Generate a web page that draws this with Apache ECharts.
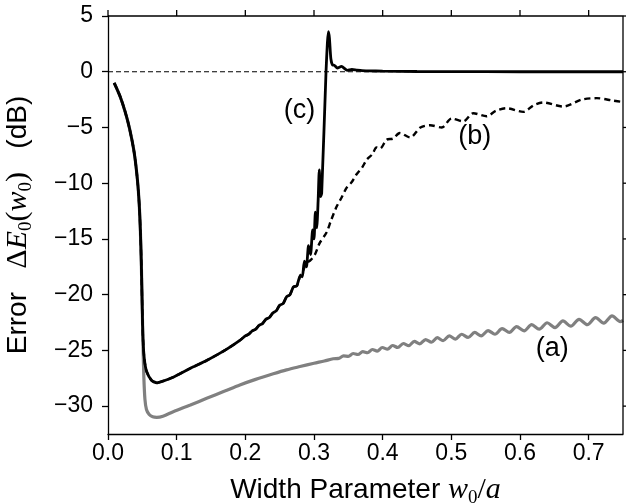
<!DOCTYPE html>
<html>
<head>
<meta charset="utf-8">
<script src="https://cdn.jsdelivr.net/npm/echarts@6/dist/echarts.min.js"></script>
<style>html,body{margin:0;padding:0;background:#fff;overflow:hidden}#chart{width:626px;height:504px}</style>
</head>
<body>
<div id="chart"></div>
<script>
// axis range and tick positions
var xRange = [0, 0.75];
var yRange = [-32.5, 5];
var xTicks = [0, 0.1, 0.2, 0.3, 0.4, 0.5, 0.6, 0.7];
var yTicks = [-30, -25, -20, -15, -10, -5, 0, 5];

// steep start, shared by all three curves
var headX = [0.0090, 0.0175, 0.0250, 0.0310, 0.0380, 0.0430, 0.0460, 0.0478, 0.0490];
var headY = [-1.0, -2.2, -3.6, -5.0, -7.2, -9.8, -12.5, -15.5, -18.5];

// black part shared by (b) and (c)
var blackX = [0.0498, 0.0510, 0.0530, 0.0563, 0.0636, 0.0709, 0.08, 0.095, 0.12, 0.1437, 0.17, 0.192,
    0.200, 0.205, 0.210, 0.215, 0.220, 0.225, 0.230, 0.235, 0.240, 0.245, 0.250, 0.255, 0.260,
    0.265, 0.270, 0.275, 0.280];
var blackY = [-21.0, -24.0, -25.8, -26.9, -27.7, -27.9, -27.75, -27.4, -26.6, -25.9, -25.0, -24.1,
    -23.7, -23.55, -23.25, -23.1, -22.75, -22.6, -22.2, -22.05, -21.65, -21.45, -20.95, -20.8, -20.2,
    -20.0, -19.3, -19.2, -18.3];

// (c) tail
var cX = [0.283, 0.286, 0.289, 0.292, 0.295, 0.298, 0.300, 0.302, 0.304, 0.306, 0.3077, 0.3095,
    0.3112, 0.3175, 0.3195, 0.3210, 0.3225, 0.3245, 0.327, 0.329, 0.334, 0.340, 0.3485, 0.355,
    0.362, 0.370, 0.380, 0.40, 0.45, 0.50, 0.60, 0.75];
var cY = [-18.4, -17.0, -17.5, -15.6, -16.4, -14.2, -15.0, -12.6, -14.0, -11.6, -8.8, -11.2,
    -10.9, 0.0, 2.6, 3.6, 3.0, 1.2, 0.6, 0.6, 0.33, 0.48, 0.12, 0.2,
    0.15, 0.1, 0.08, 0.05, 0.02, 0.01, 0.0, 0.0];

// (b) tail
var bX = [0.283, 0.289, 0.295, 0.3014, 0.308, 0.3184, 0.325, 0.333, 0.340, 0.3476, 0.355, 0.362,
    0.370, 0.3767, 0.385, 0.391, 0.396, 0.4058, 0.415, 0.425, 0.440, 0.455, 0.469, 0.486, 0.5005,
    0.5174, 0.532, 0.5514, 0.565, 0.580, 0.605, 0.620, 0.634, 0.663, 0.690, 0.7117, 0.736, 0.750];
var bY = [-18.0, -17.2, -16.9, -16.4, -15.4, -14.4, -13.3, -12.1, -11.3, -10.4, -9.9, -9.2,
    -8.6, -7.9, -7.4, -6.8, -6.9, -6.1, -6.0, -5.5, -5.9, -5.0, -4.8, -5.0, -4.2,
    -4.45, -3.72, -4.0, -3.5, -3.27, -3.6, -3.0, -2.76, -3.12, -2.5, -2.37, -2.6, -2.72];

// (a) gray after the start
var aX = [0.0498, 0.0510, 0.0522, 0.0538, 0.0560, 0.060, 0.065, 0.071, 0.08, 0.095, 0.12, 0.1437, 0.17,
    0.192, 0.215, 0.2407, 0.26, 0.2796, 0.30, 0.315, 0.328, 0.336, 0.343,
    0.350, 0.357, 0.364, 0.371, 0.378, 0.385, 0.392, 0.3995, 0.407, 0.4145, 0.422, 0.430, 0.438,
    0.446, 0.454, 0.4625, 0.471, 0.4795, 0.488, 0.497, 0.506, 0.515, 0.5245, 0.534, 0.5435, 0.5535,
    0.5635, 0.574, 0.5845, 0.595, 0.606, 0.617, 0.628, 0.6395, 0.651, 0.6625, 0.674, 0.686, 0.698,
    0.710, 0.722, 0.734, 0.746, 0.750];
var aY = [-21.0, -24.5, -27.4, -29.4, -30.3, -30.75, -30.95, -31.0, -30.9, -30.5, -29.9, -29.3, -28.65,
    -28.1, -27.6, -27.1, -26.75, -26.45, -26.15, -25.95, -25.75, -25.72, -25.5,
    -25.53, -25.28, -25.37, -25.11, -25.21, -24.92, -25.06, -24.74, -24.89, -24.56, -24.74, -24.38, -24.57,
    -24.19, -24.41, -24.03, -24.27, -23.86, -24.13, -23.70, -23.98, -23.55, -23.84, -23.39, -23.70, -23.22,
    -23.55, -23.05, -23.39, -22.86, -23.24, -22.69, -23.10, -22.52, -22.95, -22.36, -22.83, -22.21, -22.69,
    -22.06, -22.56, -21.91, -22.42, -22.3];

// dashed reference line
var zeroX = [0, 0.75];
var zeroY = [0, 0];

// curve labels, in data coordinates
var noteText = ['(c)', '(b)', '(a)'];
var noteX = [0.279, 0.534, 0.647];
var noteY = [-3.45, -5.8, -24.8];

function pairs(xs, ys) {
    var out = [];
    for (var i = 0; i < xs.length; i++) {
        out.push([xs[i], ys[i]]);
    }
    return out;
}

var sans = 'Liberation Sans';
var serif = 'Liberation Serif';
var mathRich = {
    t: { fontFamily: sans, fontSize: 28, color: '#000' },
    i: { fontFamily: serif, fontStyle: 'italic', fontSize: 30, color: '#000' },
    m: { fontFamily: serif, fontSize: 30, color: '#000' },
    s: { fontFamily: serif, fontSize: 19, color: '#000', padding: [17, 0, 0, 0] }
};

// outward tick on the top or right edge
function edgeTick(dir) {
    return function (params, api) {
        var p = api.coord([api.value(0), api.value(1)]);
        var shape = dir === 'top'
            ? { x1: p[0], y1: p[1], x2: p[0], y2: p[1] - 6 }
            : { x1: p[0], y1: p[1], x2: p[0] + 6, y2: p[1] };
        return { type: 'line', shape: shape, style: { stroke: '#000', lineWidth: 1.3 } };
    };
}

var myChart = echarts.init(document.getElementById('chart'));
myChart.setOption({
    animation: false,
    backgroundColor: '#fff',
    grid: { left: 108, right: 3, top: 16, bottom: 70, outerBoundsMode: 'none', containLabel: false },
    xAxis: {
        type: 'value', min: xRange[0], max: xRange[1],
        axisLine: { show: true, onZero: false, lineStyle: { color: '#000', width: 1.3 } },
        axisTick: { show: true, length: 6, customValues: xTicks, lineStyle: { color: '#000', width: 1.3 } },
        axisLabel: {
            customValues: xTicks, margin: 8, color: '#000', fontFamily: sans, fontSize: 23,
            formatter: function (v) { return v.toFixed(1); }
        },
        splitLine: { show: false },
        name: '{t|Width Parameter }{i|w}{s|0}{m|/}{i|a}',
        nameLocation: 'middle', nameGap: 38,
        nameTextStyle: { rich: mathRich }
    },
    yAxis: {
        type: 'value', min: yRange[0], max: yRange[1],
        axisLine: { show: true, onZero: false, lineStyle: { color: '#000', width: 1.3 } },
        axisTick: { show: true, length: 6, customValues: yTicks, lineStyle: { color: '#000', width: 1.3 } },
        axisLabel: {
            customValues: yTicks, margin: 15, color: '#000', fontFamily: sans, fontSize: 23,
            formatter: function (v) { return v < 0 ? '\u2212' + Math.abs(v) : String(v); }
        },
        splitLine: { show: false },
        name: '{t|Error   }{m|\u0394}{i|E}{s|0}{m|(}{i|w}{s|0}{m|)}{t|   (dB)}',
        nameLocation: 'middle', nameGap: 72, nameRotate: 90,
        nameTextStyle: { rich: mathRich }
    },
    series: [
        {
            name: 'zero', type: 'line', symbol: 'none', silent: true,
            data: pairs(zeroX, zeroY),
            lineStyle: { color: '#000', width: 1.2, type: [5, 3] }
        },
        {
            name: '(a)', type: 'line', symbol: 'none', smooth: 0.3,
            data: pairs(headX.concat(aX), headY.concat(aY)),
            lineStyle: { color: '#808080', width: 3.2 }
        },
        {
            name: '(b)', type: 'line', symbol: 'none', smooth: 0.3,
            data: pairs(headX.concat(blackX, bX), headY.concat(blackY, bY)),
            lineStyle: { color: '#000', width: 2.4, type: [6, 4] }
        },
        {
            name: '(c)', type: 'line', symbol: 'none', smooth: 0.2,
            data: pairs(headX.concat(blackX, cX), headY.concat(blackY, cY)),
            lineStyle: { color: '#000', width: 2.8 }
        },
        {
            // top and right edges of the frame
            name: 'frame', type: 'line', symbol: 'none', silent: true, clip: false, z: 5,
            data: pairs([xRange[0], xRange[1], xRange[1]], [yRange[1], yRange[1], yRange[0]]),
            lineStyle: { color: '#000', width: 1.3 }
        },
        {
            name: 'topTicks', type: 'custom', silent: true, clip: false, z: 5,
            data: pairs(xTicks, xTicks.map(function () { return yRange[1]; })),
            renderItem: edgeTick('top')
        },
        {
            name: 'rightTicks', type: 'custom', silent: true, clip: false, z: 5,
            data: pairs(yTicks.map(function () { return xRange[1]; }), yTicks),
            renderItem: edgeTick('right')
        }
    ]
});

// curve labels placed through the axes
var notes = [];
noteText.forEach(function (t, i) {
    var p = myChart.convertToPixel({ gridIndex: 0 }, [noteX[i], noteY[i]]);
    notes.push({
        type: 'text', silent: true, x: p[0], y: p[1],
        style: { text: t, font: '27px "Liberation Sans"', fill: '#000', align: 'center', verticalAlign: 'middle' }
    });
});
myChart.setOption({ graphic: notes });
</script>
</body>
</html>
